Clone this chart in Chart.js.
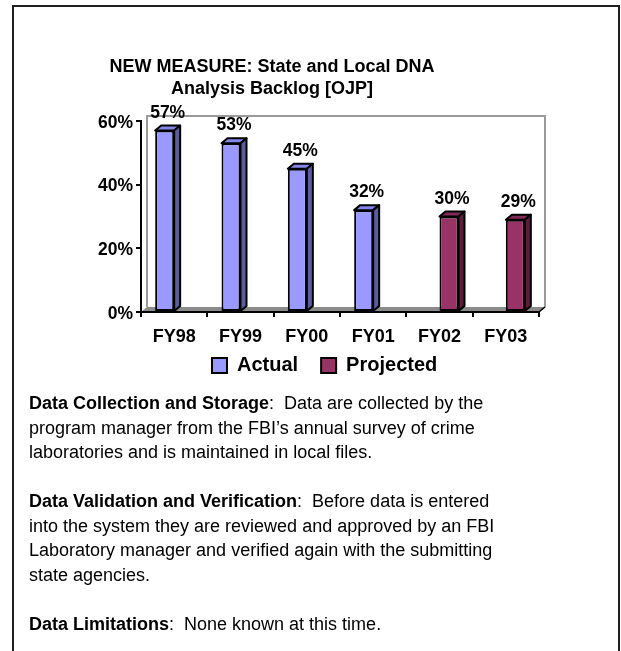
<!DOCTYPE html>
<html>
<head>
<meta charset="utf-8">
<script src="https://cdn.jsdelivr.net/npm/chart.js@4/dist/chart.umd.min.js"></script>
<style>
html,body{margin:0;padding:0;background:#fff;width:621px;height:651px;overflow:hidden;}
#frame{position:absolute;left:12px;top:5px;width:604px;height:700px;border:2px solid #1e1e1e;border-bottom:none;box-sizing:content-box;}
#wrap{position:absolute;left:0;top:0;width:621px;height:400px;}
#notes{position:absolute;left:29px;top:391px;font-family:"Liberation Sans",Arial,sans-serif;font-size:18px;line-height:24.5px;color:#000;white-space:pre;}
#notes b{font-weight:bold;}
</style>
</head>
<body>
<div id="frame"></div>
<div id="wrap"><canvas id="c" width="621" height="400"></canvas></div>
<div id="notes"><b>Data Collection and Storage</b>:  Data are collected by the
program manager from the FBI’s annual survey of crime
laboratories and is maintained in local files.

<b>Data Validation and Verification</b>:  Before data is entered
into the system they are reviewed and approved by an FBI
Laboratory manager and verified again with the submitting
state agencies.

<b>Data Limitations</b>:  None known at this time.</div>
<script>
const categories = ['FY98', 'FY99', 'FY00', 'FY01', 'FY02', 'FY03'];
const actualValues = [57, 53, 45, 32, null, null];
const projectedValues = [null, null, null, null, 30, 29];
const yTickValues = [0, 20, 40, 60];
const seriesNames = ['Actual', 'Projected'];
const titleLines = ['NEW MEASURE: State and Local DNA', 'Analysis Backlog [OJP]'];

const FONT = '"Liberation Sans", Arial, sans-serif';
const DX = 6, DY = 5;
const faceColors = [
  {front: '#9999FF', top: '#8686e8', side: '#5c5c9e'},
  {front: '#993366', top: '#822b57', side: '#5a1e3c'}
];

function poly(ctx, pts, fill) {
  ctx.beginPath();
  ctx.moveTo(pts[0][0], pts[0][1]);
  for (let i = 1; i < pts.length; i++) ctx.lineTo(pts[i][0], pts[i][1]);
  ctx.closePath();
  ctx.fillStyle = fill;
  ctx.fill();
  ctx.stroke();
}

const depthPlugin = {
  id: 'depth3d',
  beforeDraw(chart) {
    const ctx = chart.ctx, a = chart.chartArea;
    ctx.save();
    ctx.strokeStyle = '#9a9a9a';
    ctx.lineWidth = 2;
    ctx.beginPath();
    ctx.moveTo(a.left + DX, a.bottom - DY);
    ctx.lineTo(a.left + DX, a.top - DY);
    ctx.lineTo(a.right + DX, a.top - DY);
    ctx.lineTo(a.right + DX, a.bottom - DY);
    ctx.stroke();
    ctx.fillStyle = '#8a8a8a';
    ctx.beginPath();
    ctx.moveTo(a.left, a.bottom);
    ctx.lineTo(a.left + DX, a.bottom - DY);
    ctx.lineTo(a.right + DX, a.bottom - DY);
    ctx.lineTo(a.right, a.bottom);
    ctx.closePath();
    ctx.fill();
    ctx.strokeStyle = '#000';
    ctx.lineWidth = 1.5;
    ctx.beginPath();
    ctx.moveTo(a.right, a.bottom);
    ctx.lineTo(a.right + DX, a.bottom - DY);
    ctx.stroke();
    ctx.restore();
  },
  afterDatasetsDraw(chart) {
    const ctx = chart.ctx;
    ctx.save();
    ctx.strokeStyle = '#000';
    ctx.lineWidth = 2;
    ctx.lineJoin = 'round';
    chart.data.datasets.forEach((ds, i) => {
      const meta = chart.getDatasetMeta(i);
      const c = faceColors[i];
      meta.data.forEach((bar, j) => {
        if (ds.data[j] == null) return;
        const p = bar.getProps(['x', 'y', 'base', 'width'], true);
        const l = p.x - p.width / 2, r = p.x + p.width / 2;
        poly(ctx, [[l, p.y], [l + DX, p.y - DY], [r + DX, p.y - DY], [r, p.y]], c.top);
        poly(ctx, [[r, p.y], [r + DX, p.y - DY], [r + DX, p.base - DY], [r, p.base]], c.side);
      });
    });
    ctx.font = 'bold 17.5px ' + FONT;
    ctx.fillStyle = '#000';
    ctx.textAlign = 'center';
    ctx.textBaseline = 'alphabetic';
    chart.data.datasets.forEach((ds, i) => {
      const meta = chart.getDatasetMeta(i);
      meta.data.forEach((bar, j) => {
        if (ds.data[j] == null) return;
        const p = bar.getProps(['x', 'y'], true);
        ctx.fillText(ds.data[j] + '%', p.x + DX / 2, p.y - DY - 8);
      });
    });
    ctx.restore();
  }
};

const LEGEND_START_X = 212;
const LEGEND_TOP_Y = 332.5;
const legendShift = {
  id: 'legendShift',
  afterUpdate(chart) {
    const lg = chart.legend;
    if (!lg || !lg.legendHitBoxes || !lg.legendHitBoxes.length) return;
    const d = LEGEND_START_X - lg.legendHitBoxes[0].left;
    const h = lg.bottom - lg.top;
    lg.left += d;
    lg.right += d;
    lg.top = LEGEND_TOP_Y;
    lg.bottom = LEGEND_TOP_Y + h;
    lg.adjustHitBoxes();
  }
};

new Chart(document.getElementById('c'), {
  type: 'bar',
  data: {
    labels: categories,
    datasets: [
      {label: seriesNames[0], data: actualValues, backgroundColor: faceColors[0].front, borderColor: '#000', borderWidth: 2, borderSkipped: false, categoryPercentage: 0.573, barPercentage: 1},
      {label: seriesNames[1], data: projectedValues, backgroundColor: faceColors[1].front, borderColor: '#000', borderWidth: 2, borderSkipped: false, categoryPercentage: 0.573, barPercentage: 1}
    ]
  },
  options: {
    responsive: false,
    animation: false,
    events: [],
    layout: {padding: {top: 56, left: 5, right: 82, bottom: 1}},
    scales: {
      x: {
        ticks: {font: {family: FONT, size: 18, weight: 'bold'}, color: '#000', padding: 9, maxRotation: 0, autoSkip: false},
        grid: {drawOnChartArea: false, tickLength: 5, color: '#000', lineWidth: 2, offset: true},
        border: {color: '#000', width: 2},
        afterFit(scale) { scale.height = 34; }
      },
      y: {
        min: 0, max: 60,
        afterBuildTicks(scale) { scale.ticks = yTickValues.map(v => ({value: v})); },
        ticks: {callback: v => v + '%', font: {family: FONT, size: 17.5, weight: 'bold'}, color: '#000', padding: 3, labelOffset: 2},
        grid: {drawOnChartArea: false, tickLength: 5, color: '#000', lineWidth: 2},
        border: {color: '#000', width: 2},
        afterFit(scale) { scale.width = 136; }
      }
    },
    plugins: {
      title: {display: true, text: titleLines, color: '#000', font: {family: FONT, size: 18, weight: 'bold', lineHeight: 22 / 18}, padding: {top: 0, bottom: 21}},
      legend: {position: 'bottom', labels: {font: {family: FONT, size: 20, weight: 'bold'}, color: '#000', boxWidth: 15, boxHeight: 15, padding: 23}},
      tooltip: {enabled: false}
    }
  },
  plugins: [depthPlugin, legendShift]
});
</script>
</body>
</html>
